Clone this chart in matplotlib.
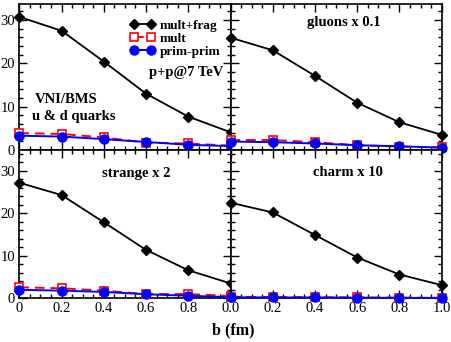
import matplotlib
matplotlib.use("Agg")
import matplotlib.pyplot as plt
from matplotlib.ticker import MultipleLocator, FixedLocator, FixedFormatter

plt.rcParams['font.family'] = ['Liberation Serif', 'DejaVu Serif']

b = [0.0, 0.2, 0.4, 0.6, 0.8, 1.0]

ud_multfrag = [30.7, 27.5, 20.4, 13.0, 7.7, 4.1]
ud_mult = [3.9, 3.7, 2.9, 1.7, 1.5, 1.0]
ud_prim = [3.3, 3.1, 2.5, 1.85, 1.2, 0.9]

gl_multfrag = [25.9, 23.0, 17.1, 10.9, 6.4, 3.5]
gl_mult = [2.3, 2.3, 1.8, 1.1, 0.8, 0.6]
gl_prim = [1.95, 1.8, 1.5, 1.1, 0.85, 0.55]

st_multfrag = [27.2, 24.3, 17.9, 11.4, 6.6, 3.5]
st_mult = [2.6, 2.35, 1.8, 1.0, 1.0, 0.55]
st_prim = [2.0, 1.8, 1.5, 0.95, 0.6, 0.25]

ch_multfrag = [22.5, 20.2, 14.9, 9.6, 5.6, 3.1]
ch_mult = [0.35, 0.3, 0.25, 0.2, 0.15, 0.1]
ch_prim = [0.25, 0.2, 0.2, 0.15, 0.1, 0.08]

legend_labels = ["mult+frag", "mult", "prim-prim"]
panel_titles = ["", "gluons x 0.1", "strange x 2", "charm x 10"]

W, H = 452, 342
fig = plt.figure(figsize=(W / 100, H / 100), dpi=100)

xl, xm, xr = 19.3 / W, 230.5 / W, 441.7 / W
yb, ym, yt = 1 - 298.3 / H, 1 - 150 / H, 1 - 4.3 / H

axes = [
    fig.add_axes([xl, ym, xm - xl, yt - ym]),
    fig.add_axes([xm, ym, xr - xm, yt - ym]),
    fig.add_axes([xl, yb, xm - xl, ym - yb]),
    fig.add_axes([xm, yb, xr - xm, ym - yb]),
]
data = [
    (ud_multfrag, ud_mult, ud_prim),
    (gl_multfrag, gl_mult, gl_prim),
    (st_multfrag, st_mult, st_prim),
    (ch_multfrag, ch_mult, ch_prim),
]

for i, (ax, (mf, mu, pp)) in enumerate(zip(axes, data)):
    ax.plot(b, mf, color='black', lw=1.3, marker='D', ms=5, mfc='black',
            mec='black', clip_on=False, zorder=5, label=legend_labels[0])
    ax.plot(b, mu, color='red', lw=1.4, ls=(0, (5, 3)), marker='s', ms=5.5,
            mfc='white', mec='red', mew=1.2, clip_on=False, zorder=6,
            label=legend_labels[1])
    ax.plot(b, pp, color='blue', lw=1.4, marker='o', ms=6.5, mfc='blue',
            mec='blue', clip_on=False, zorder=7, label=legend_labels[2])
    ax.set_xlim(0, 1.0)
    if i < 2:
        ax.set_ylim(0, 33.6)
    else:
        ax.set_ylim(0, 34.9)
    ax.xaxis.set_major_locator(FixedLocator([0, 0.2, 0.4, 0.6, 0.8, 1.0]))
    ax.xaxis.set_minor_locator(MultipleLocator(0.05))
    ax.yaxis.set_major_locator(FixedLocator([0, 10, 20, 30]))
    ax.yaxis.set_minor_locator(MultipleLocator(2))
    ax.tick_params(which='both', direction='in', top=True, right=True,
                   labelsize=10.5, width=1.0, color='black', pad=3)
    ax.tick_params(which='major', length=6)
    ax.tick_params(which='minor', length=3)
    for s in ax.spines.values():
        s.set_linewidth(1.2)
    if i in (1, 3):
        ax.set_yticklabels([])
    else:
        ax.yaxis.set_major_formatter(FixedFormatter(["0", "10", "20", "30"]))
    if i < 2:
        ax.set_xticklabels([])
    elif i == 2:
        ax.xaxis.set_major_formatter(FixedFormatter(["0", "0.2", "0.4", "0.6", "0.8", ""]))
    else:
        ax.xaxis.set_major_formatter(FixedFormatter(["0.0", "0.2", "0.4", "0.6", "0.8", "1.0"]))

# legend
leg = axes[0].legend(loc='upper left', bbox_to_anchor=(0.5, 0.93), frameon=False,
                     numpoints=2, handlelength=1.9, handletextpad=0.35,
                     labelspacing=0.05, borderaxespad=0.0,
                     prop={'weight': 'bold', 'size': 9.5})

axes[0].text(0.615, 0.53, "p+p@7 TeV", transform=axes[0].transAxes,
             fontsize=10.5, fontweight='bold', ha='left', va='center')
axes[0].text(0.075, 0.345, "VNI/BMS", transform=axes[0].transAxes,
             fontsize=10.5, fontweight='bold', ha='left', va='center')
axes[0].text(0.06, 0.23, "u & d quarks", transform=axes[0].transAxes,
             fontsize=10.5, fontweight='bold', ha='left', va='center')

axes[1].text(0.535, 0.875, panel_titles[1], transform=axes[1].transAxes,
             fontsize=10.5, fontweight='bold', ha='center', va='center')
axes[2].text(0.555, 0.84, panel_titles[2], transform=axes[2].transAxes,
             fontsize=10.5, fontweight='bold', ha='center', va='center')
axes[3].text(0.555, 0.85, panel_titles[3], transform=axes[3].transAxes,
             fontsize=10.5, fontweight='bold', ha='center', va='center')

fig.text(233 / W, 1 - 330 / H, "b (fm)", fontsize=11.5, fontweight='bold',
         ha='center', va='center')

fig.savefig("out.png", dpi=100)
